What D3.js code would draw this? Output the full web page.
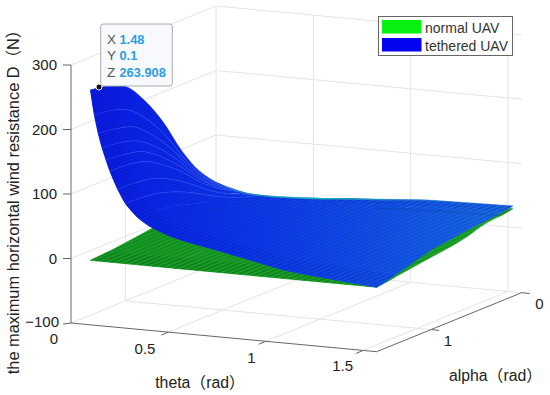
<!DOCTYPE html>
<html><head><meta charset="utf-8">
<script src="https://cdn.jsdelivr.net/npm/d3@7/dist/d3.min.js"></script>
<style>html,body{margin:0;padding:0;background:#fff}svg{display:block}
text{font-family:"Liberation Sans","Noto Sans CJK SC",sans-serif}</style>
</head><body><svg id="c" width="550" height="395"></svg>
<script>
const thetaTicks = [0, 0.5, 1, 1.5];
const alphaTicks = [0, 1];
const zTicks = [-100, 0, 100, 200, 300];
const alphaCols = [0.1, 0.2, 0.4, 0.6, 0.8, 1.0, 1.2, 1.4, 1.6];
const blueThetas = [0.1,0.12,0.14,0.16,0.18,0.2,0.24,0.28,0.34,0.4,0.5,0.6,0.75,0.9,1.1,1.3,1.57];
const blueZ = [
  [28,40,70,114,169,213,246,259,264],
  [26.5,37.5,63,100,146,183,210,222,226],
  [25,35,58,90,129,161,185,194,198],
  [23.5,33,53,81,115,143,164,173,176],
  [22.3,31,49,74,104,129,148,155,158],
  [21.2,29.5,45.5,67,94,116,133,140,141],
  [20.2,26.5,39,56,77,95,108,113,114],
  [19.8,24.5,34,47,63,77,87,92,93],
  [19.8,23,30,40,51,60,68,72,74],
  [20.5,23,28,35,43,50,56,59,62],
  [22,24,28,32,37,42,46,49,50],
  [24,26,28,31,34,38,40,41.5,42.5],
  [28,28.5,29,30,31,32,33,33.5,34],
  [31,30.5,30,29.5,29,28,27,25.5,25],
  [36,34,32,29,26,23,19.5,16,13],
  [38,36,33.5,30,27,23,17.5,12,7],
  [40,37.5,34,31.5,27.4,23.4,15.2,7.4,0]
];
const greenThetas = [0.1,0.5,1.0,1.57];
const greenZ = [
  [15,16,16,15,13,9.3,5.4,2,0],
  [15,16,16,16,14,10,6,2.5,0],
  [20,20,20,18,15,11,7,3,0],
  [36,33,30,21.5,15.8,12.2,8,4,0]
];
const legendNames = ["normal UAV","tethered UAV"];
const legendColors = ["#08f010","#0404f0"];
const tipLabels = ["X","Y","Z"];
const tipValues = ["1.48","0.1","263.908"];

const svg = d3.select("#c");
const defs = svg.append("defs");
const T0=0,T1=1.57,A0=0,A1=1.6,Z0=-100,Z1=300;
const xT=d3.scaleLinear([T0,T1],[71,376.7]);
const yT=d3.scaleLinear([T0,T1],[0,28.7]);
const xA=d3.scaleLinear([A1,A0],[0,145]);
const yA=d3.scaleLinear([A1,A0],[0,-59]);
const zS=d3.scaleLinear([Z0,Z1],[323,65]);
const P=(t,a,z)=>[xT(t)+xA(a), yT(t)+yA(a)+zS(z)];

function grad(id,stops,x1,x2){
  const g=defs.append("linearGradient").attr("id",id).attr("gradientUnits","userSpaceOnUse")
    .attr("x1",x1).attr("x2",x2).attr("y1",0).attr("y2",0);
  stops.forEach(s=>g.append("stop").attr("offset",s[0]).attr("stop-color",s[1]).attr("stop-opacity",s[2]??1));
}
grad("blueG",[[0,"#0a18e4"],[0.45,"#0c3ce8"],[1,"#1a6ce0"]],90,513);
grad("greenG",[[0,"#169a22"],[1,"#1ca82a"]],90,490);
grad("crestG",[[0,"#1fa8b8",0],[0.22,"#1fa8b8",0.7],[0.42,"#1fb0b8",1],[0.62,"#1f98c0",0.7],[1,"#1f70d0",0]],190,500);
function stripes(id,color,op){
  const p=defs.append("pattern").attr("id",id).attr("patternUnits","userSpaceOnUse")
    .attr("width",10).attr("height",3.3).attr("patternTransform","rotate(-22.1)");
  p.append("rect").attr("width",10).attr("height",1.3).attr("fill",color).attr("fill-opacity",op);
}
stripes("blueS","#001a9a",0.2);
stripes("greenS","#05561a",0.3);

const grid=svg.append("g").attr("stroke","#e4e4e4").attr("stroke-width",1).attr("fill","none");
const seg=(g,a,b)=>g.append("line").attr("x1",a[0]).attr("y1",a[1]).attr("x2",b[0]).attr("y2",b[1]);
zTicks.forEach(z=>{ seg(grid,P(T0,A1,z),P(T0,A0,z)); seg(grid,P(T0,A0,z),P(T1,A0,z)); });
seg(grid,P(T0,A0,Z0),P(T0,A0,Z1));
alphaTicks.filter(a=>a>0).forEach(a=>{ seg(grid,P(T0,a,Z0),P(T0,a,Z1)); seg(grid,P(T0,a,Z0),P(T1,a,Z0)); });
thetaTicks.filter(t=>t>0).forEach(t=>{ seg(grid,P(t,A1,Z0),P(t,A0,Z0)); seg(grid,P(t,A0,Z0),P(t,A0,Z1)); });

const ax=svg.append("g").attr("stroke","#666").attr("stroke-width",1).attr("fill","none");
seg(ax,P(T0,A1,Z0),P(T0,A1,Z1));
seg(ax,P(T0,A1,Z0),P(T1,A1,Z0));
seg(ax,P(T1,A1,Z0),P(T1,A0,Z0));
zTicks.forEach(z=>{const p=P(T0,A1,z); seg(ax,p,[p[0]-8,p[1]+(z===-100?1:0)]);});
thetaTicks.filter(t=>t>0).forEach(t=>{const p=P(t,A1,Z0); seg(ax,p,[p[0]-7,p[1]+3]);});
alphaTicks.forEach(a=>{const p=P(T1,a,Z0); seg(ax,p,[p[0]+8,p[1]+0.8]);});

const tl=svg.append("g").attr("font-size",15).attr("fill","#222");
zTicks.forEach(z=>{const p=P(T0,A1,z);
  tl.append("text").attr("x",z===-100?59:57).attr("y",(z===-100?p[1]-1:p[1])+5.3).attr("text-anchor","end").text(z<0?"\u2212"+(-z):z);});
const thetaOff={0:[54,339],0.5:[145,349],1:[251.5,357.3],1.5:[342.7,366]};
thetaTicks.forEach(t=>{tl.append("text").attr("x",thetaOff[t][0]).attr("y",thetaOff[t][1]+5.3).attr("text-anchor","middle").text(t);});
const alphaOff={0:[539.3,304],1:[448,340.7]};
alphaTicks.forEach(a=>{tl.append("text").attr("x",alphaOff[a][0]).attr("y",alphaOff[a][1]+5.3).attr("text-anchor","middle").text(a);});

const ti=svg.append("g").attr("fill","#222");
ti.append("text").attr("font-size",16.4).attr("transform","translate(19,198) rotate(-90)").attr("text-anchor","middle").text("the maximum horizontal wind resistance D\uff08N\uff09");
ti.append("text").attr("font-size",15.8).attr("x",200).attr("y",388).attr("text-anchor","middle").text("theta\uff08rad\uff09");
ti.append("text").attr("font-size",15.8).attr("x",495.5).attr("y",381).attr("text-anchor","middle").text("alpha\uff08rad\uff09");

const curve=d3.line().curve(d3.curveCatmullRom.alpha(0.5));
function rowPts(t,zs){return alphaCols.map((a,i)=>P(t,a,zs[i]));}
function colPts(thetas,zz,j){return thetas.map((t,i)=>P(t,alphaCols[j],zz[i][j]));}
function strips(g,thetas,zz,fill,over){
  const d=[];
  for(let i=0;i<thetas.length-1;i++){
    const A=rowPts(thetas[i],zz[i]), B=rowPts(thetas[i+1],zz[i+1]).reverse();
    d.push(curve(A)+"L"+curve(B).slice(1)+"Z");
  }
  const n=alphaCols.length-1;
  [[0,1],[n,n-1]].forEach(([a,b])=>{
    const R=colPts(thetas,zz,a), S=colPts(thetas,zz,b).reverse();
    d.push(curve(R)+"L"+curve(S).slice(1)+"Z");
  });
  g.selectAll(null).data(d).join("path").attr("d",x=>x).attr("fill",fill).attr("stroke",fill).attr("stroke-width",0.5);
  g.selectAll(null).data(d).join("path").attr("d",x=>x).attr("fill",over);
}
strips(svg.append("g"),greenThetas,greenZ,"url(#greenG)","url(#greenS)");
const blue=svg.append("g");
strips(blue,blueThetas,blueZ,"url(#blueG)","url(#blueS)");
const pale=blue.append("g").attr("fill","none").attr("stroke","#5a80ff").attr("stroke-width",0.8).attr("stroke-opacity",0.35);
blueThetas.forEach((t,i)=>{ if(i>0&&t<=0.28) pale.append("path").attr("d",curve(rowPts(t,blueZ[i]))); });
const seamIdx=blueThetas.map((t,i)=>i).filter(i=>blueThetas[i]>=0.9);
blue.append("path").attr("d",curve(seamIdx.map(i=>P(blueThetas[i],alphaCols[1],blueZ[i][1]-7)))).attr("fill","none").attr("stroke","#103060").attr("stroke-opacity",0.2).attr("stroke-width",1.2);
blue.append("path").attr("d",curve(colPts(blueThetas,blueZ,0))).attr("fill","none").attr("stroke","url(#crestG)").attr("stroke-width",1.6);

const tip=svg.append("g");
tip.append("rect").attr("x",100.7).attr("y",24).attr("width",71.6).attr("height",62).attr("rx",2.5)
  .attr("fill","#f8f9fd").attr("stroke","#aaa");
const tipBase=[44.3,60,76.7];
tipLabels.forEach((l,i)=>{
  tip.append("text").attr("x",107).attr("y",tipBase[i]).attr("font-size",13.5).attr("fill","#555").text(l);
  tip.append("text").attr("x",119.5).attr("y",tipBase[i]).attr("font-size",12.8).attr("font-weight","bold").attr("fill","#2a9ee0").text(tipValues[i]);
});
svg.append("circle").attr("cx",99).attr("cy",87).attr("r",3).attr("fill","#111").attr("stroke","#eee").attr("stroke-width",1);

const lg=svg.append("g");
lg.append("rect").attr("x",378.5).attr("y",16.5).attr("width",134).attr("height",39).attr("fill","#fff").attr("stroke","#666");
legendNames.forEach((n,i)=>{
  lg.append("rect").attr("x",382).attr("y",20+i*18).attr("width",39.5).attr("height",13.5).attr("fill",legendColors[i]);
  lg.append("text").attr("x",425).attr("y",33+i*17.5).attr("font-size",14).attr("fill","#333").text(n);
});
</script></body></html>
